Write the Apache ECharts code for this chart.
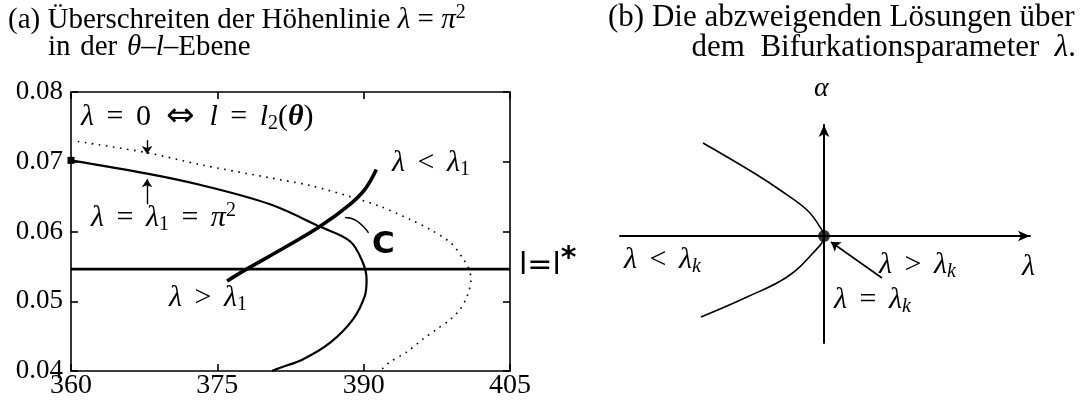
<!DOCTYPE html>
<html>
<head>
<meta charset="utf-8">
<script src="https://cdn.jsdelivr.net/npm/echarts@6/dist/echarts.min.js"></script>
<style>
  html, body { margin: 0; padding: 0; background: #fff; }
  #chart { width: 1088px; height: 400px; }
</style>
</head>
<body>
<div id="chart"></div>
<script>
// ---------- (a) theta–l plane ----------
const thetaTicks = [360, 375, 390, 405];
const lTicks = [0.04, 0.05, 0.06, 0.07, 0.08];

// level curve lambda = 0  (l = l2(theta)), dotted
const levelZero = [
  [360.7, 0.0729], [367.8, 0.0713], [373.2, 0.0696], [380.4, 0.0677],
  [384.5, 0.0666], [388.6, 0.0650], [391.7, 0.0636], [394.8, 0.0617],
  [396.8, 0.0603], [398.9, 0.0584], [400.1, 0.0563], [400.8, 0.0546],
  [401.0, 0.0531], [400.6, 0.0507], [399.9, 0.0489], [398.9, 0.0474],
  [397.5, 0.0460], [396.1, 0.0446], [394.4, 0.0427], [392.7, 0.0413],
  [391.9, 0.0403], [391.6, 0.0400]
];
// level curve lambda = lambda1 = pi^2
const levelPi2 = [
  [360.0, 0.0702], [367.8, 0.0683], [373.2, 0.0667], [380.4, 0.0639],
  [385.5, 0.0607], [388.6, 0.0586], [389.9, 0.0556], [390.3, 0.0531],
  [390.1, 0.0507], [388.9, 0.0474], [386.6, 0.0441], [383.8, 0.0417],
  [381.1, 0.0403], [380.6, 0.0400]
];
// path C crossing the level curve
const pathC = [
  [376.0, 0.0529], [378.0, 0.0546], [381.9, 0.0577], [385.5, 0.0607],
  [388.6, 0.0639], [390.1, 0.0660], [391.3, 0.0689]
];
const lStar = 0.0546;

// ---------- (b) bifurcation diagram ----------
const branchLambda = [-12.1, -7.0, -4.4, -1.7, -0.4, 0, -1.1, -3.7, -7.7, -12.3];
const branchAlpha  = [  9.3,  6.3,  4.6,  2.6,  0.9, 0, -1.7, -4.1, -6.1, -8.1];
const lambdaRange = [-20.4, 20.6];
const alphaRange  = [-10.7, 11.1];
const bifPoint = [0, 0];

// annotation pointers (in axis units)
const pointersA = [
  [[367.8, 0.0731], [367.8, 0.0711]],
  [[367.8, 0.0639], [367.8, 0.0675]]
];
const leaderC = [[388.1, 0.0620], [389.2, 0.0616], [390.5, 0.0598]];
const pointerB = [[5.8, -4.2], [0.7, -0.6]];

const SERIF = '"Liberation Serif", "DejaVu Serif", serif';
const SANS = '"DejaVu Sans", "Liberation Sans", sans-serif';
const SP = '\u2004';            // space in running text
const MS = '\u2004\u200A';      // space around relations in formulas
const EN = '\u2002';

function mathRich(size) {
  const sub = Math.round(size * 0.68);
  const base = { fontFamily: SERIF, color: '#000', fontWeight: 'normal' };
  const down = Math.round(size * 0.42), up = Math.round(size * 0.5);
  return {
    i:  Object.assign({}, base, { fontSize: size, fontStyle: 'italic' }),
    b:  Object.assign({}, base, { fontSize: size, fontStyle: 'italic', fontWeight: 'bold' }),
    a:  Object.assign({}, base, { fontSize: Math.round(size * 1.12), fontFamily: SANS }),
    s:  Object.assign({}, base, { fontSize: sub, padding: [down, 0, 0, 0] }),
    si: Object.assign({}, base, { fontSize: sub, fontStyle: 'italic', padding: [down, 0, 0, 0] }),
    p:  Object.assign({}, base, { fontSize: sub, padding: [0, 0, up, 0] }),
    pb: Object.assign({}, base, { fontSize: size, fontFamily: SANS, fontWeight: 'bold', padding: [0, 0, up, 0] })
  };
}
function textBox(text, pos, size, family, weight) {
  return Object.assign({
    text: text, padding: 0, itemGap: 0,
    textStyle: {
      fontFamily: family || SERIF, fontSize: size, fontWeight: weight || 'normal',
      color: '#000', rich: mathRich(size)
    }
  }, pos);
}

const chart = echarts.init(document.getElementById('chart'), null, { renderer: 'canvas' });

const axisBlack = { lineStyle: { color: '#000', width: 1.6 } };
const tickIn = { show: true, inside: true, length: 7, lineStyle: { color: '#000', width: 1.6 } };
const labelA = { color: '#000', fontFamily: SERIF };

const option = {
  backgroundColor: '#fff',
  animation: false,
  title: [
    textBox('(a) Überschreiten der Höhenlinie {i|λ} = {i|π}{p|2}', { left: 8, top: 3 }, 29),
    textBox('in' + SP + 'der' + SP + '{i|θ}–{i|l}–Ebene', { left: 48, top: 33 }, 29),
    textBox('(b) Die abzweigenden Lösungen über', { left: 608, top: 2 }, 31),
    textBox('dem' + EN + 'Bifurkationsparameter' + EN + '{i|λ}.', { right: 12, top: 32 }, 31),

    textBox('{i|λ}' + MS + '=' + MS + '0' + EN + '{a|⇔}' + EN + '{i|l}' + MS + '=' + MS + '{i|l}{s|2}({b|θ})',
            { left: 81, top: 100 }, 30),
    textBox('{i|λ}' + MS + '=' + MS + '{i|λ}{s|1}' + MS + '=' + MS + '{i|π}{p|2}', { left: 91, top: 201 }, 30),
    textBox('{i|λ}' + MS + '<' + MS + '{i|λ}{s|1}', { left: 392, top: 147 }, 30),
    textBox('{i|λ}' + MS + '>' + MS + '{i|λ}{s|1}', { left: 169, top: 282 }, 30),
    textBox('C', { left: 372, top: 229 }, 31, SANS, 'bold'),
    textBox('l=l{pb|*}', { left: 519, top: 244 }, 30, SANS),

    textBox('{i|α}', { left: 814, top: 75 }, 28),
    textBox('{i|λ}' + MS + '<' + MS + '{i|λ}{si|k}', { left: 624, top: 244 }, 30),
    textBox('{i|λ}' + MS + '>' + MS + '{i|λ}{si|k}', { left: 879, top: 249 }, 30),
    textBox('{i|λ}' + MS + '=' + MS + '{i|λ}{si|k}', { left: 834, top: 284 }, 30),
    textBox('{i|λ}', { left: 1022, top: 252 }, 30)
  ],
  grid: [
    { left: 71, top: 92, width: 439, height: 280, containLabel: false },
    { left: 620, top: 125, width: 410, height: 218, containLabel: false }
  ],
  xAxis: [
    {
      gridIndex: 0, type: 'value', position: 'bottom',
      min: thetaTicks[0], max: thetaTicks[thetaTicks.length - 1], interval: thetaTicks[1] - thetaTicks[0],
      axisLine: Object.assign({ onZero: false }, axisBlack), axisTick: tickIn,
      axisLabel: Object.assign({ fontSize: 28, margin: 1 }, labelA),
      splitLine: { show: false }
    },
    {
      gridIndex: 0, type: 'value', position: 'top',
      min: thetaTicks[0], max: thetaTicks[thetaTicks.length - 1], interval: thetaTicks[1] - thetaTicks[0],
      axisLine: Object.assign({ onZero: false }, axisBlack), axisTick: tickIn,
      axisLabel: { show: false }, splitLine: { show: false }
    },
    {
      gridIndex: 1, type: 'value', min: lambdaRange[0], max: lambdaRange[1],
      axisLine: { onZero: true, symbol: ['none', 'arrow'], symbolSize: [8, 12], symbolOffset: [0, 0],
                  lineStyle: { color: '#000', width: 2 } },
      axisTick: { show: false }, axisLabel: { show: false }, splitLine: { show: false }
    }
  ],
  yAxis: [
    {
      gridIndex: 0, type: 'value', position: 'left',
      min: lTicks[0], max: lTicks[lTicks.length - 1], interval: 0.01,
      axisLine: Object.assign({ onZero: false }, axisBlack), axisTick: tickIn,
      axisLabel: Object.assign({ fontSize: 27, margin: 8, formatter: v => v.toFixed(2) }, labelA),
      splitLine: { show: false }
    },
    {
      gridIndex: 0, type: 'value', position: 'right',
      min: lTicks[0], max: lTicks[lTicks.length - 1], interval: 0.01,
      axisLine: Object.assign({ onZero: false }, axisBlack), axisTick: tickIn,
      axisLabel: { show: false }, splitLine: { show: false }
    },
    {
      gridIndex: 1, type: 'value', min: alphaRange[0], max: alphaRange[1],
      axisLine: { onZero: true, symbol: ['none', 'arrow'], symbolSize: [8, 12], symbolOffset: [0, 0],
                  lineStyle: { color: '#000', width: 2 } },
      axisTick: { show: false }, axisLabel: { show: false }, splitLine: { show: false }
    }
  ],
  series: [
    {
      name: 'λ = 0', type: 'line', xAxisIndex: 0, yAxisIndex: 0,
      data: levelZero, smooth: 0.3, symbol: 'none',
      lineStyle: { color: '#000', width: 1.6, type: [1.6, 5.5] }
    },
    {
      name: 'λ = π²', type: 'line', xAxisIndex: 0, yAxisIndex: 0,
      data: levelPi2.map((p, i) => i === 0 ? { value: p, symbol: 'rect', symbolSize: [7, 7] } : p),
      smooth: 0.35, showSymbol: true, symbol: 'none',
      itemStyle: { color: '#000' },
      lineStyle: { color: '#000', width: 2.2 }
    },
    {
      name: 'C', type: 'line', xAxisIndex: 0, yAxisIndex: 0,
      data: pathC, smooth: 0.4, symbol: 'none',
      lineStyle: { color: '#000', width: 3.6 }
    },
    {
      name: 'l = l*', type: 'line', xAxisIndex: 0, yAxisIndex: 0,
      data: [[thetaTicks[0], lStar], [thetaTicks[thetaTicks.length - 1], lStar]],
      symbol: 'none', lineStyle: { color: '#000', width: 2.8 }
    },
    {
      name: 'pointers', type: 'lines', coordinateSystem: 'cartesian2d', xAxisIndex: 0, yAxisIndex: 0,
      symbol: ['none', 'arrow'], symbolSize: 8,
      lineStyle: { color: '#000', width: 1.4, opacity: 1, curveness: 0 },
      data: pointersA.map(c => ({ coords: c }))
    },
    {
      name: 'leader', type: 'line', xAxisIndex: 0, yAxisIndex: 0,
      data: leaderC, smooth: 0.5, symbol: 'none',
      lineStyle: { color: '#000', width: 1.4 }
    },
    {
      name: 'branches', type: 'line', xAxisIndex: 2, yAxisIndex: 2,
      data: branchLambda.map((x, i) => [x, branchAlpha[i]]),
      smooth: 0.4, symbol: 'none',
      lineStyle: { color: '#000', width: 1.6 }
    },
    {
      name: 'bifurcation point', type: 'scatter', xAxisIndex: 2, yAxisIndex: 2,
      data: [bifPoint], symbol: 'circle', symbolSize: 12,
      itemStyle: { color: '#000' }
    },
    {
      name: 'pointerB', type: 'lines', coordinateSystem: 'cartesian2d', xAxisIndex: 2, yAxisIndex: 2,
      symbol: ['none', 'arrow'], symbolSize: 9,
      lineStyle: { color: '#000', width: 1.6, opacity: 1, curveness: 0 },
      data: [{ coords: pointerB }]
    }
  ]
};

chart.setOption(option);
</script>
</body>
</html>
